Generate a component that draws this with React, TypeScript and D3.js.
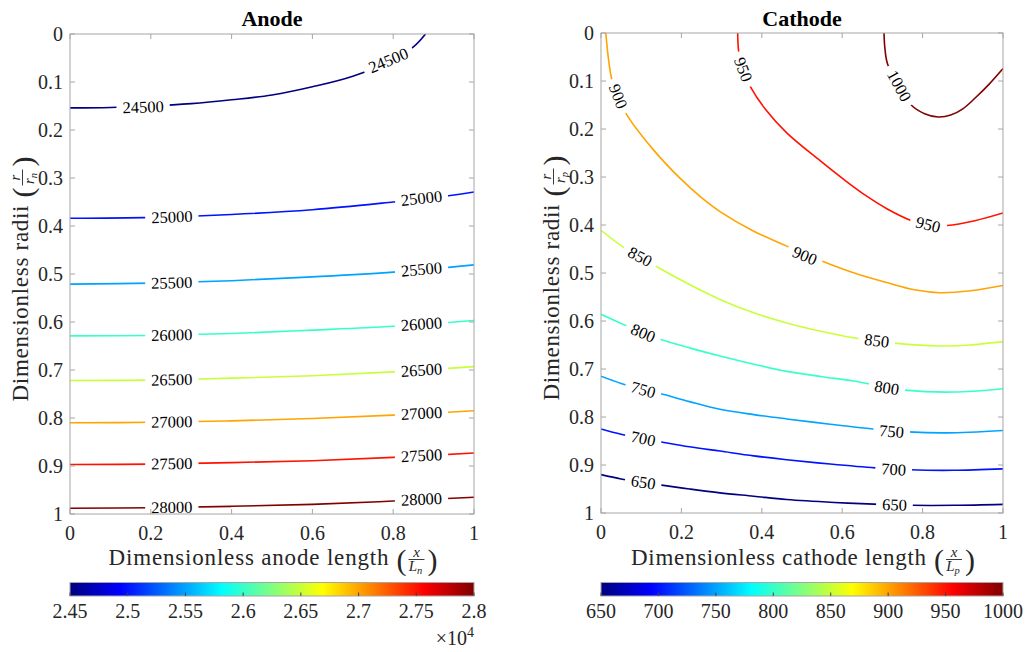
import React from 'react';
import * as d3 from 'd3';

type Pt = [number, number];

const FONT = "'Liberation Serif', 'DejaVu Serif', serif";
const INK = '#262626';
const AXIS = '#a6a6a6';

// ---- anode: contour levels and lines (x / L_n, r / r_n)
const anodeLevels = [24500, 25000, 25500, 26000, 26500, 27000, 27500, 28000];
const anode24500: Pt[] = [[0, 0.154], [0.1, 0.153], [0.2, 0.15], [0.3, 0.145], [0.4, 0.137], [0.5, 0.127], [0.6, 0.11], [0.7, 0.088], [0.8, 0.053], [0.85, 0.027], [0.88, 0]];
const anode25000: Pt[] = [[0, 0.384], [0.2, 0.382], [0.4, 0.376], [0.6, 0.366], [0.8, 0.35], [0.9, 0.341], [1, 0.329]];
const anode25500: Pt[] = [[0, 0.521], [0.2, 0.519], [0.4, 0.514], [0.6, 0.506], [0.8, 0.496], [1, 0.481]];
const anode26000: Pt[] = [[0, 0.629], [0.2, 0.628], [0.4, 0.624], [0.6, 0.617], [0.8, 0.609], [1, 0.597]];
const anode26500: Pt[] = [[0, 0.722], [0.2, 0.721], [0.4, 0.717], [0.6, 0.712], [0.8, 0.704], [1, 0.693]];
const anode27000: Pt[] = [[0, 0.81], [0.2, 0.809], [0.4, 0.806], [0.6, 0.801], [0.8, 0.794], [1, 0.785]];
const anode27500: Pt[] = [[0, 0.897], [0.2, 0.896], [0.4, 0.893], [0.6, 0.889], [0.8, 0.882], [1, 0.873]];
const anode28000: Pt[] = [[0, 0.988], [0.2, 0.987], [0.4, 0.984], [0.6, 0.98], [0.8, 0.973], [1, 0.965]];
const anodeLines = [anode24500, anode25000, anode25500, anode26000, anode26500, anode27000, anode27500, anode28000];
// [level, x, r]
const anodeLabels = [
  [24500, 0.181, 0.152], [24500, 0.788, 0.055],
  [25000, 0.252, 0.381], [25000, 0.87, 0.342],
  [25500, 0.252, 0.518], [25500, 0.87, 0.49],
  [26000, 0.252, 0.627], [26000, 0.87, 0.604],
  [26500, 0.252, 0.72], [26500, 0.87, 0.7],
  [27000, 0.252, 0.808], [27000, 0.87, 0.79],
  [27500, 0.252, 0.895], [27500, 0.87, 0.878],
  [28000, 0.252, 0.986], [28000, 0.87, 0.969],
];
const anodeBarTicks = [24500, 25000, 25500, 26000, 26500, 27000, 27500, 28000];

// ---- cathode
const cathodeLevels = [650, 700, 750, 800, 850, 900, 950, 1000];
const cathode650: Pt[] = [[0, 0.92], [0.05, 0.929], [0.105, 0.936], [0.151, 0.942], [0.22, 0.95], [0.296, 0.958], [0.38, 0.965], [0.462, 0.972], [0.58, 0.978], [0.694, 0.982], [0.773, 0.984], [0.88, 0.984], [1, 0.982]];
const cathode700: Pt[] = [[0, 0.825], [0.05, 0.836], [0.105, 0.845], [0.151, 0.852], [0.22, 0.862], [0.296, 0.871], [0.38, 0.881], [0.462, 0.889], [0.57, 0.898], [0.682, 0.906], [0.769, 0.91], [0.876, 0.911], [1, 0.908]];
const cathode750: Pt[] = [[0, 0.715], [0.05, 0.73], [0.105, 0.743], [0.147, 0.751], [0.22, 0.768], [0.296, 0.784], [0.38, 0.795], [0.462, 0.804], [0.57, 0.815], [0.677, 0.825], [0.765, 0.831], [0.86, 0.833], [1, 0.828]];
const cathode800: Pt[] = [[0, 0.586], [0.05, 0.605], [0.105, 0.625], [0.143, 0.637], [0.22, 0.656], [0.296, 0.673], [0.38, 0.69], [0.462, 0.705], [0.55, 0.716], [0.628, 0.725], [0.711, 0.738], [0.756, 0.744], [0.876, 0.748], [1, 0.741]];
const cathode850: Pt[] = [[0, 0.411], [0.064, 0.451], [0.097, 0.466], [0.139, 0.487], [0.22, 0.524], [0.296, 0.555], [0.38, 0.583], [0.462, 0.604], [0.55, 0.622], [0.628, 0.635], [0.686, 0.641], [0.731, 0.646], [0.843, 0.652], [0.92, 0.65], [1, 0.643]];
const cathode900: Pt[] = [[0.012, 0], [0.018, 0.05], [0.027, 0.097], [0.043, 0.132], [0.064, 0.17], [0.13, 0.243], [0.197, 0.303], [0.25, 0.343], [0.296, 0.372], [0.38, 0.413], [0.462, 0.444], [0.549, 0.475], [0.63, 0.5], [0.711, 0.52], [0.78, 0.535], [0.843, 0.541], [0.92, 0.537], [1, 0.526]];
const cathode950: Pt[] = [[0.34, 0], [0.342, 0.035], [0.348, 0.065], [0.357, 0.085], [0.371, 0.111], [0.41, 0.16], [0.462, 0.208], [0.545, 0.266], [0.61, 0.309], [0.661, 0.34], [0.711, 0.366], [0.773, 0.391], [0.82, 0.401], [0.86, 0.401], [0.93, 0.391], [1, 0.375]];
const cathode1000: Pt[] = [[0.704, 0], [0.706, 0.03], [0.713, 0.065], [0.742, 0.11], [0.773, 0.151], [0.805, 0.168], [0.839, 0.175], [0.87, 0.171], [0.9, 0.158], [0.93, 0.136], [0.965, 0.107], [1, 0.074]];
const cathodeLines = [cathode650, cathode700, cathode750, cathode800, cathode850, cathode900, cathode950, cathode1000];
const cathodeLabels = [
  [650, 0.105, 0.936], [650, 0.73, 0.983],
  [700, 0.105, 0.845], [700, 0.728, 0.909],
  [750, 0.105, 0.743], [750, 0.723, 0.83],
  [800, 0.105, 0.625], [800, 0.711, 0.739],
  [850, 0.097, 0.466], [850, 0.686, 0.641],
  [900, 0.043, 0.132], [900, 0.507, 0.464],
  [950, 0.354, 0.076], [950, 0.814, 0.399],
  [1000, 0.742, 0.11],
];
const cathodeBarTicks = [650, 700, 750, 800, 850, 900, 950, 1000];

const xTicks = [0, 0.2, 0.4, 0.6, 0.8, 1];
const yTicks = [0, 0.1, 0.2, 0.3, 0.4, 0.5, 0.6, 0.7, 0.8, 0.9, 1];

// MATLAB jet
function jet(t: number) {
  const c = (v: number) => Math.round(255 * Math.max(0, Math.min(1, v)));
  return `rgb(${c(1.5 - Math.abs(4 * t - 3))},${c(1.5 - Math.abs(4 * t - 2))},${c(1.5 - Math.abs(4 * t - 1))})`;
}

// angle of the closest polyline segment, kept readable
function labelAngle(pts: Pt[], px: number, py: number) {
  let best = Infinity;
  let ang = 0;
  for (let i = 0; i < pts.length - 1; i++) {
    const [ax, ay] = pts[i];
    const [bx, by] = pts[i + 1];
    const dx = bx - ax, dy = by - ay;
    const len2 = dx * dx + dy * dy || 1;
    const t = Math.max(0, Math.min(1, ((px - ax) * dx + (py - ay) * dy) / len2));
    const d = Math.hypot(ax + t * dx - px, ay + t * dy - py);
    if (d < best) { best = d; ang = Math.atan2(dy, dx) * 180 / Math.PI; }
  }
  if (ang > 90) ang -= 180;
  if (ang < -90) ang += 180;
  return ang;
}

const serif = { fontFamily: FONT };

function FracLabel({ x, y, vertical, text, width, num, den, sub }: any) {
  const e = width;
  return (
    <g transform={`translate(${x},${y})${vertical ? ' rotate(-90)' : ''}`} fill={INK} style={serif}>
      <text x={0} y={0} fontSize={23} textLength={width} lengthAdjust="spacing">{text}</text>
      <text x={e + 8} y={5} fontSize={30}>(</text>
      <text x={e + 28} y={-8.5} fontSize={15} fontStyle="italic" textAnchor="middle">{num}</text>
      <line x1={e + 20} x2={e + 36} y1={-5.5} y2={-5.5} stroke={INK} strokeWidth={0.9} />
      <text x={e + 27} y={6} fontSize={15} fontStyle="italic" textAnchor="middle">
        {den}<tspan fontSize={10.5} dy={2.5}>{sub}</tspan>
      </text>
      <text x={e + 39} y={5} fontSize={30}>)</text>
    </g>
  );
}

function Panel(props: any) {
  const { id, left, right, top, bottom, title, levels, lines, labels, barTicks, barFormat, xText, xWidth, yText, yWidth, sub, yLabelX, exponent } = props;
  const x = d3.scaleLinear().domain([0, 1]).range([left, right]);
  const y = d3.scaleLinear().domain([0, 1]).range([top, bottom]);
  const lo = d3.min(levels as number[])!;
  const hi = d3.max(levels as number[])!;
  const tOf = (v: number) => (v - lo) / (hi - lo);
  const line = d3.line<Pt>().x(d => x(d[0])).y(d => y(d[1])).curve(d3.curveCatmullRom.alpha(0.5));
  const cb = d3.scaleLinear().domain([lo, hi]).range([left, right]);
  const barTop = 582.5, barBot = 596;
  const stops = d3.range(65).map(i => i / 64);

  const placed = (labels as number[][]).map(([lev, lx, lr]) => {
    const idx = (levels as number[]).indexOf(lev);
    const pix: Pt[] = (lines[idx] as Pt[]).map(p => [x(p[0]), y(p[1])]);
    const px = x(lx), py = y(lr);
    const w = String(lev).length * 8.25;
    return { lev, px, py, w, a: labelAngle(pix, px, py) };
  });

  return (
    <g style={serif}>
      <defs>
        <clipPath id={`clip-${id}`}>
          <rect x={left} y={top} width={right - left} height={bottom - top} />
        </clipPath>
        <mask id={`mask-${id}`} maskUnits="userSpaceOnUse" x={0} y={0} width={1026} height={652}>
          <rect x={0} y={0} width={1026} height={652} fill="white" />
          {placed.map((p, i) => (
            <rect key={i} x={-p.w / 2 - 6} y={-7} width={p.w + 12} height={14} fill="black"
              transform={`translate(${p.px},${p.py}) rotate(${p.a})`} />
          ))}
        </mask>
        <linearGradient id={`grad-${id}`} x1="0" x2="1" y1="0" y2="0">
          {stops.map(s => <stop key={s} offset={s} stopColor={jet(s)} />)}
        </linearGradient>
      </defs>

      <text x={(left + right) / 2} y={26} textAnchor="middle" fontWeight="bold" fontSize={22} fill="#000">{title}</text>

      {/* contours */}
      <g clipPath={`url(#clip-${id})`}>
        <g mask={`url(#mask-${id})`}>
          {(lines as Pt[][]).map((pts, i) => (
            <path key={i} d={line(pts)!} fill="none" stroke={jet(tOf(levels[i]))} strokeWidth={1.6} />
          ))}
        </g>
      </g>
      {placed.map((p, i) => (
        <text key={i} transform={`translate(${p.px},${p.py}) rotate(${p.a})`} textAnchor="middle" dy="0.34em"
          fontSize={16.5} fill="#000">{p.lev}</text>
      ))}

      {/* axes box + ticks */}
      <rect x={left} y={top} width={right - left} height={bottom - top} fill="none" stroke={AXIS} strokeWidth={1} />
      {xTicks.map(t => (
        <g key={t}>
          <line x1={x(t)} x2={x(t)} y1={bottom} y2={bottom - 5} stroke={AXIS} />
          <line x1={x(t)} x2={x(t)} y1={top} y2={top + 5} stroke={AXIS} />
          <text x={x(t)} y={bottom + 26} textAnchor="middle" fontSize={20} fill={INK}>{d3.format('~g')(t)}</text>
        </g>
      ))}
      {yTicks.map(t => (
        <g key={t}>
          <line x1={left} x2={left + 5} y1={y(t)} y2={y(t)} stroke={AXIS} />
          <line x1={right} x2={right - 5} y1={y(t)} y2={y(t)} stroke={AXIS} />
          <text x={left - 7} y={y(t)} dy="0.35em" textAnchor="end" fontSize={20} fill={INK}>{d3.format('~g')(t)}</text>
        </g>
      ))}

      <FracLabel x={(left + right) / 2 - (xWidth + 47) / 2} y={565} text={xText} width={xWidth} num="x" den="L" sub={sub} />
      <FracLabel x={yLabelX} y={(top + bottom) / 2 + (yWidth + 47) / 2 + 6} vertical text={yText} width={yWidth} num="r" den="r" sub={sub} />

      {/* colorbar */}
      <rect x={left} y={barTop} width={right - left} height={barBot - barTop} fill={`url(#grad-${id})`} stroke={AXIS} />
      {(barTicks as number[]).map(v => (
        <g key={v}>
          <line x1={cb(v)} x2={cb(v)} y1={barBot} y2={barBot - 3.5} stroke="#444" />
          <text x={cb(v)} y={618} textAnchor="middle" fontSize={20} fill={INK}>{barFormat(v)}</text>
        </g>
      ))}
      {exponent && (
        <text x={right} y={645} textAnchor="end" fontSize={20} fill={INK}>
          ×10<tspan dy={-8} fontSize={14}>4</tspan>
        </text>
      )}
    </g>
  );
}

export default function App() {
  return (
    <svg width={1026} height={652} style={{ position: 'absolute', left: 0, top: 0, background: '#fff', fontFamily: FONT }}>
      <rect x={0} y={0} width={1026} height={652} fill="#fff" />
      <Panel id="anode" left={70} right={474} top={34} bottom={514} title="Anode"
        levels={anodeLevels} lines={anodeLines} labels={anodeLabels}
        barTicks={anodeBarTicks} barFormat={(v: number) => d3.format('~g')(v / 1e4)} exponent
        xText="Dimensionless anode length" xWidth={280} yText="Dimensionless radii" yWidth={196} sub="n" yLabelX={28} />
      <Panel id="cathode" left={601} right={1003} top={33} bottom={513} title="Cathode"
        levels={cathodeLevels} lines={cathodeLines} labels={cathodeLabels}
        barTicks={cathodeBarTicks} barFormat={(v: number) => String(v)}
        xText="Dimensionless cathode length" xWidth={295} yText="Dimensionless radii" yWidth={196} sub="p" yLabelX={559} />
    </svg>
  );
}
